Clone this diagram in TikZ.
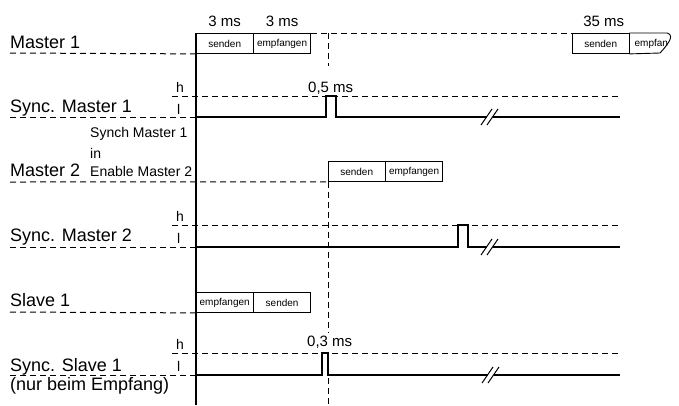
\documentclass[tikz,border=0pt]{standalone}
\usepackage{fontspec}
\setmainfont{Liberation Sans}
\usetikzlibrary{positioning}

\begin{document}
\begin{tikzpicture}[x=1pt,y=-1pt,
  big/.style={anchor=base west, inner sep=0pt, font=\fontsize{18}{20}\selectfont},
  mid/.style={anchor=base west, inner sep=0pt, font=\fontsize{14}{16}\selectfont},
  cell/.style={draw, line width=0.9pt, minimum width=56.5pt, minimum height=20pt,
    inner sep=0pt, anchor=north west, font=\fontsize{10}{11}\selectfont},
  guide/.style={line width=1pt, dash pattern=on 6pt off 4pt},
  sig/.style={line width=2.6pt},
  brk/.style={line width=1pt}]
\useasboundingbox (0,0) rectangle (679,405);

% left hand labels
\node[big] (lm1) at (10,48) {Master 1};
\node[big] (lsm1) at (10,112) {Sync. Master 1};
\node[mid] (en1) at (90,137) {Synch Master 1};
\node[mid] (en2) at (90,158) {in};
\node[mid] (en3) at (90,176) {Enable Master 2};
\node[big] (lm2) at (10,176) {Master 2};
\node[big] (lsm2) at (10,241) {Sync. Master 2};
\node[big] (ls1) at (10,306) {Slave 1};
\node[big] (lss1) at (10,371) {Sync. Slave 1};
\node[big] (lss2) at (10,390) {(nur beim Empfang)};

% h / l levels
\node[mid] (h1) at (176,92) {h};
\node[mid] (l1) at (177,114) {l};
\node[mid] (h2) at (176,221) {h};
\node[mid] (l2) at (177,243) {l};
\node[mid] (h3) at (176,349) {h};
\node[mid] (l3) at (177,371) {l};

% frames
\node[cell] (m1send) at (196,33) {senden};
\node[cell] (m1recv) at (m1send.north east) {empfangen};
\node[cell] (m2send) at (328,161) {senden};
\node[cell] (m2recv) at (m2send.north east) {empfangen};
\node[cell] (s1recv) at (196,292) {empfangen};
\node[cell] (s1send) at (s1recv.north east) {senden};
\node[cell] (m1send2) at (572,33) {senden};
\node[inner sep=0pt, font=\fontsize{10}{11}\selectfont, right=5pt of m1send2.east] (m1recv2) {empfan};
\draw[line width=0.9pt] (m1send2.north east) -- (667,33)
  .. controls (673,35) and (672,40) .. (660,53) -- (m1send2.south east);

% times
\node[mid, font=\fontsize{15}{17}\selectfont, above=6pt of m1send.north] (t1) {3 ms};
\node[mid, font=\fontsize{15}{17}\selectfont, above=6pt of m1recv.north] (t2) {3 ms};
\node[mid, font=\fontsize{15}{17}\selectfont, above=6pt of m1send2.north, xshift=3pt] (t3) {35 ms};
\node[mid, font=\fontsize{15}{17}\selectfont] (t4) at (308,92) {0,5 ms};
\node[mid, font=\fontsize{15}{17}\selectfont] (t5) at (307,346) {0,3 ms};

% time axis
\coordinate (bot) at (196,405);
\coordinate (bot2) at (328,405);
\draw[line width=1.1pt] (m1send.north west) -- (bot);
\draw[guide] (m1recv.north east) -- (m1send2.north west);
\draw[guide] (328,33) -- (328,66);
\draw[guide] (m2send.south west) -- (328,333);
\draw[guide] (328,378) -- (bot2);

% guide lines
\draw[guide] (10,53) -- (m1send.south west);
\draw[guide] (10,117) -- (196,117);
\draw[guide] (172,96) -- (620,96);
\draw[guide] (10,182) -- (m2send.south west);
\draw[guide] (10,247) -- (196,247);
\draw[guide] (172,225) -- (620,225);
\draw[guide] (10,312) -- (s1recv.south west);
\draw[guide] (10,375) -- (196,375);
\draw[guide] (172,353) -- (620,353);

% signals
\draw[sig] (196,117) -| (326,96) -| (336,117) -- (486.5,117);
\draw[sig] (492.5,117) -- (620,117);
\draw[brk] (481,125) -- (492,109);
\draw[brk] (487,125) -- (498,109);

\draw[sig] (196,247) -| (458,225) -| (468,247) -- (486.5,247);
\draw[sig] (492.5,247) -- (620,247);
\draw[brk] (481,255) -- (492,239);
\draw[brk] (487,255) -- (498,239);

\draw[sig] (196,375) -| (322,353) -| (328,375) -- (487.5,375);
\draw[sig] (493.5,375) -- (620,375);
\draw[brk] (482,383) -- (493,367);
\draw[brk] (488,383) -- (499,367);
\end{tikzpicture}
\end{document}
